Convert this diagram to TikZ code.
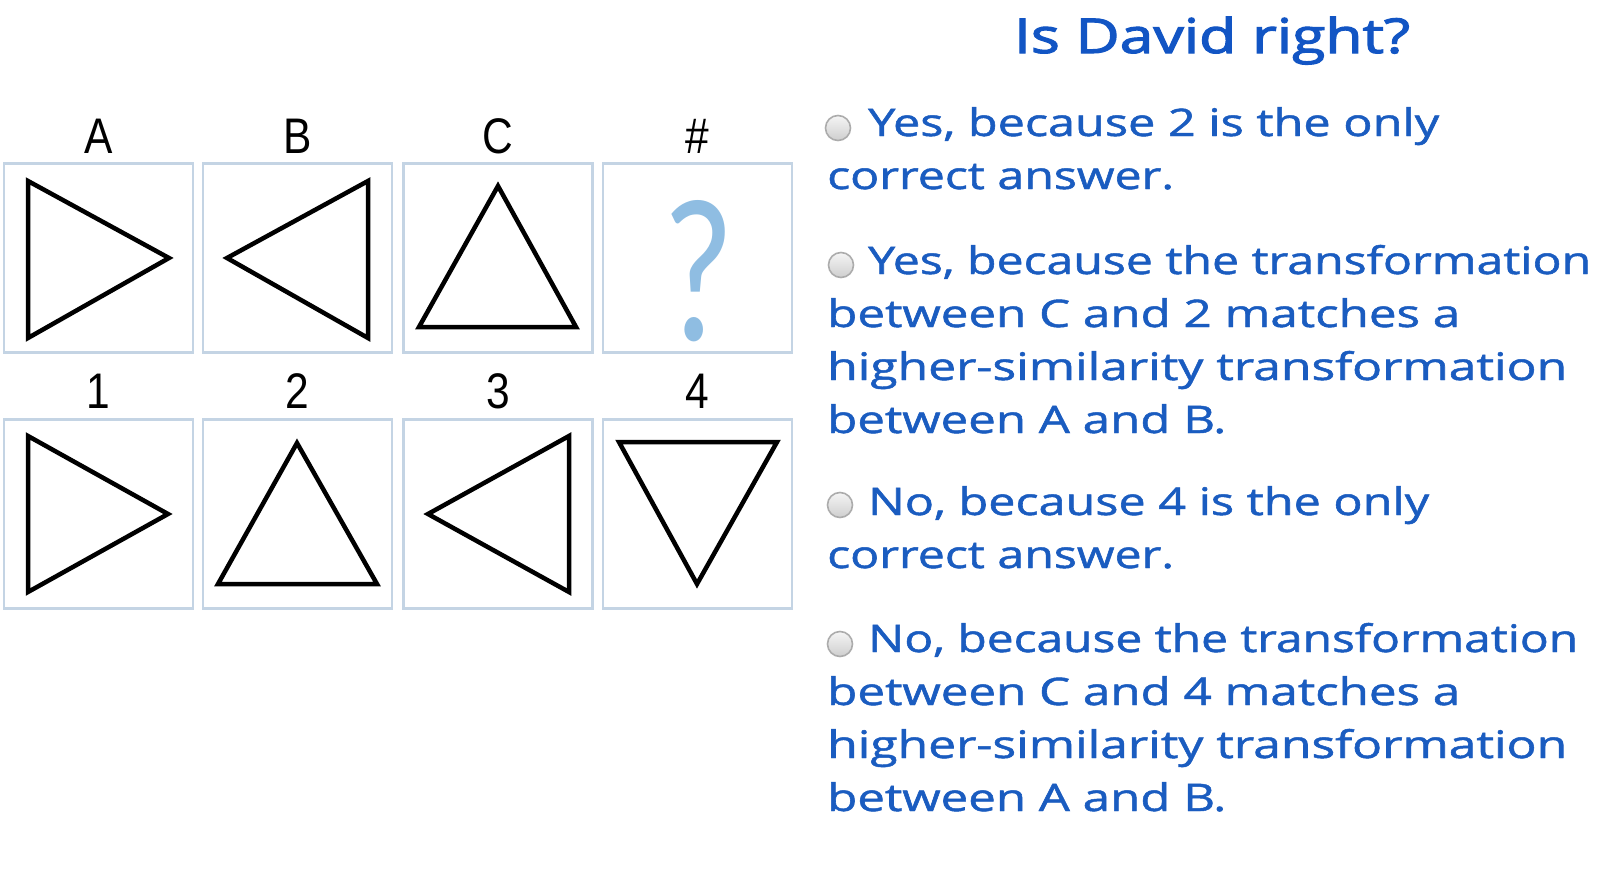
\documentclass[tikz,border=0pt]{standalone}
\usepackage{fontspec}
\setmainfont{Open Sans}
\newfontfamily\optfont[FakeBold=1.2]{Open Sans}
\newfontfamily\titlefont[FakeBold=2.2]{Open Sans}
\newfontfamily\labfont{Liberation Sans}
\newfontfamily\qfont{Carlito}
\usepackage{graphicx}
\definecolor{txtblue}{HTML}{1A5CC0}
\definecolor{titleblue}{HTML}{1255C4}
\definecolor{boxline}{HTML}{C4D4E4}
\definecolor{qblue}{HTML}{8FBDE2}
\newlength\fitlen
\newcommand\fitto[2]{\sbox0{#2}\setlength\fitlen{\wd0}\pgfmathsetmacro\fitf{#1/\fitlen}\scalebox{\fitf}[1]{\usebox0}}
\newcommand\labtext[1]{\scalebox{0.85}[1]{#1}}
\tikzset{
  cell/.style={draw=boxline, line width=2.6pt, minimum width=189pt, minimum height=189pt, inner sep=0pt},
  tri/.style={draw=black, line width=4.5pt, line join=miter},
  lab/.style={anchor=base, inner sep=0pt, font=\labfont\fontsize{50}{54}\selectfont},
  optl/.style={anchor=base west, inner sep=0pt, text=txtblue, font=\optfont\fontsize{38}{44}\selectfont},
  radio/.style={circle, draw=gray!65, line width=1.6pt, minimum size=25pt, inner sep=0pt, top color=gray!8, bottom color=gray!38},
}
\begin{document}
\begin{tikzpicture}[x=1pt, y=-1pt]
\useasboundingbox[fill=white] (0,0) rectangle (1606,878);
% boxes
\node[cell] (bA) at (98.5,258) {};
\node[cell] (bB) at (297.5,258) {};
\node[cell] (bC) at (498,258) {};
\node[cell] (bH) at (697.5,258) {};
\node[cell] (b1) at (98.5,514) {};
\node[cell] (b2) at (297.5,514) {};
\node[cell] (b3) at (498,514) {};
\node[cell] (b4) at (697.5,514) {};
% labels
\node[lab] (lA) at (98.5,153) {\labtext{A}};
\node[lab] (lB) at (297.5,153) {\labtext{B}};
\node[lab] (lC) at (498,153) {\labtext{C}};
\node[lab] (lH) at (697.5,153) {\labtext{\#}};
\node[lab] (l1) at (98.5,408) {\labtext{1}};
\node[lab] (l2) at (297.5,408) {\labtext{2}};
\node[lab] (l3) at (498,408) {\labtext{3}};
\node[lab] (l4) at (697.5,408) {\labtext{4}};
% triangles
\draw[tri] (28,181) -- (28,338) -- (169,258) -- cycle;
\draw[tri] (368,181) -- (368,338) -- (227,258) -- cycle;
\draw[tri] (498,186) -- (419,327) -- (576,327) -- cycle;
\draw[tri] (28,436) -- (28,592) -- (168,514) -- cycle;
\draw[tri] (297,443) -- (218,584) -- (377,584) -- cycle;
\draw[tri] (569,436) -- (569,592) -- (428,514) -- cycle;
\draw[tri] (619,442) -- (777,442) -- (697,584) -- cycle;
% question mark
\node[anchor=base, inner sep=0pt, text=qblue] (qm) at (698,340) {\resizebox{72pt}{140pt}{\qfont ?}};
% title
\node[anchor=base, inner sep=0pt, text=titleblue] (title) at (1212,53) {\fitto{396}{\titlefont\fontsize{48}{54}\selectfont Is David right?}};
% radios
\node[radio] (r1) at (838,128) {};
\node[radio] (r2) at (841,265) {};
\node[radio] (r3) at (840,505) {};
\node[radio] (r4) at (840,644) {};
% option 1
\node[optl] (o1a) at (868,136) {\fitto{571}{Yes, because 2 is the only}};
\node[optl] (o1b) at (827,189) {\fitto{347}{correct answer.}};
% option 2
\node[optl] (o2a) at (868,274) {\fitto{723}{Yes, because the transformation}};
\node[optl] (o2b) at (827,327) {\fitto{633}{between C and 2 matches a}};
\node[optl] (o2c) at (827,380) {\fitto{740}{higher-similarity transformation}};
\node[optl] (o2d) at (827,433) {\fitto{399}{between A and B.}};
% option 3
\node[optl] (o3a) at (868,515) {\fitto{561}{No, because 4 is the only}};
\node[optl] (o3b) at (827,568) {\fitto{347}{correct answer.}};
% option 4
\node[optl] (o4a) at (868,652) {\fitto{710}{No, because the transformation}};
\node[optl] (o4b) at (827,705) {\fitto{633}{between C and 4 matches a}};
\node[optl] (o4c) at (827,758) {\fitto{740}{higher-similarity transformation}};
\node[optl] (o4d) at (827,811) {\fitto{399}{between A and B.}};
\end{tikzpicture}
\end{document}
